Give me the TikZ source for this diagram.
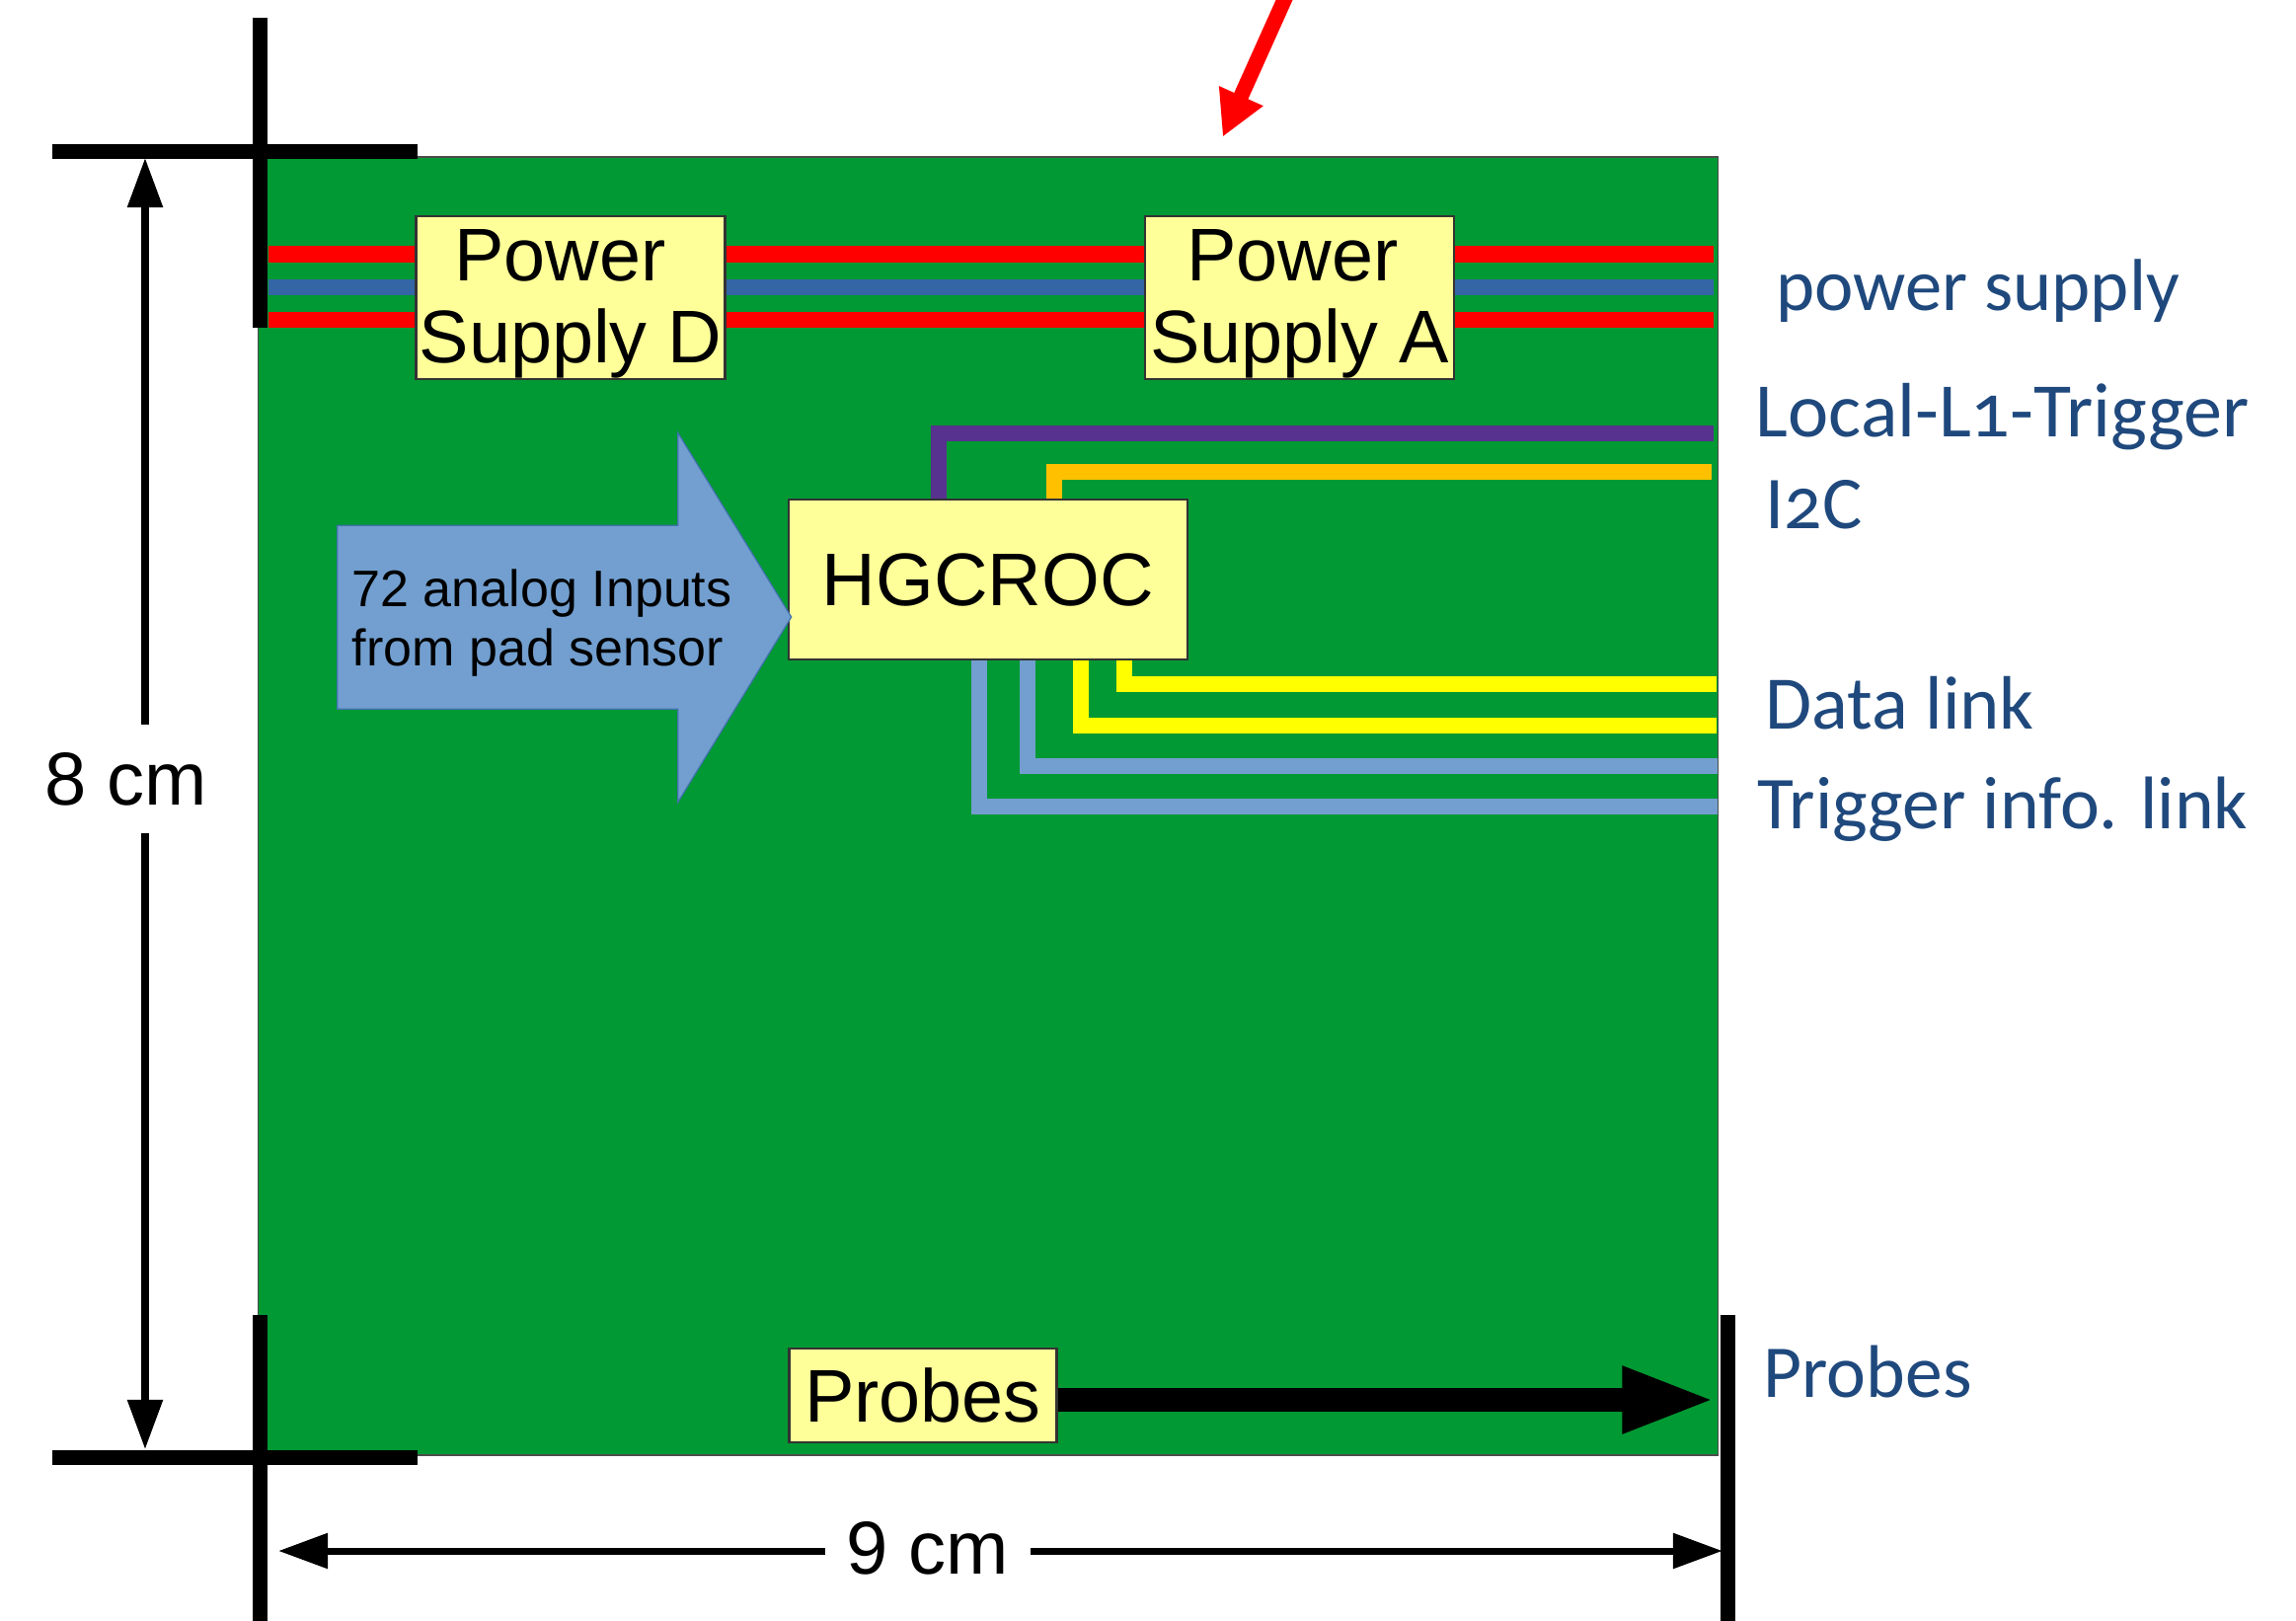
\documentclass[tikz,border=0pt]{standalone}
\usepackage{fontspec}
\setmainfont{Liberation Sans}
\newfontfamily\lblfont[Numbers=OldStyle]{Carlito}
\usepackage{xcolor}
\usetikzlibrary{arrows.meta}
\definecolor{boardgreen}{RGB}{0,153,51}
\definecolor{chipyellow}{RGB}{255,255,153}
\definecolor{railblue}{RGB}{52,101,164}
\definecolor{linkblue}{RGB}{114,159,207}
\definecolor{trigpurple}{RGB}{87,50,142}
\definecolor{itwocorange}{RGB}{255,192,0}
\definecolor{datayellow}{RGB}{255,255,0}
\definecolor{lblblue}{RGB}{31,73,125}
\newcommand{\chipgap}{\rule{0pt}{18.6pt}}
\begin{document}
\begin{tikzpicture}[
    x=0.01cm, y=-0.01cm,
    chip/.style={draw=black!80, fill=chipyellow, line width=0.025cm, inner sep=0pt, align=center,
        font=\fontsize{21.5}{23.6}\selectfont},
    supply/.style={chip, minimum width=3.13cm, minimum height=1.65cm, inner ysep=-0.15cm},
    rail/.style={line width=0.165cm},
    sigline/.style={line width=0.16cm},
    cropbar/.style={line width=0.15cm, black},
    dimline/.style={line width=0.07cm, {Triangle[length=0.5cm,width=0.345cm]}-{Triangle[length=0.5cm,width=0.345cm]}},
    dimlbl/.style={fill=white, inner sep=0pt, font=\fontsize{21.6}{24}\selectfont},
    lbl/.style={anchor=base west, inner sep=0pt, text=lblblue, font=\lblfont\fontsize{#1}{24}\selectfont},
    lbl/.default=21.5
]
\useasboundingbox (0,0) rectangle (2326,1642);

% Board
\node[draw=black!70, fill=boardgreen, line width=0.015cm, minimum width=14.78cm, minimum height=13.14cm, inner sep=0pt] (board) at (1001,816.5) {};

% Power rails
\coordinate (railTopL) at (272,257.5);
\coordinate (railTopR) at (1736,257.5);
\coordinate (railMidL) at (272,291);
\coordinate (railMidR) at (1736,291);
\coordinate (railBotL) at (272,324);
\coordinate (railBotR) at (1736,324);
\draw[rail, red] (railTopL) -- (railTopR);
\draw[rail, railblue] (railMidL) -- (railMidR);
\draw[rail, red] (railBotL) -- (railBotR);

\node[supply] (supplyD) at (578,301.5) {\chipgap Power\hspace*{6pt}\\Supply D};
\node[supply] (supplyA) at (1316.5,301.5) {\chipgap Power\hspace*{4pt}\\Supply A};

% HGCROC and its lines
\node[chip, minimum width=4.04cm, minimum height=1.62cm] (hgcroc) at (1001,587) {HGCROC};
\coordinate (l1End) at (1736,439);
\coordinate (itwocEnd) at (1734,477.5);
\coordinate (dataEndA) at (1739,693);
\coordinate (dataEndB) at (1739,734.5);
\coordinate (trigEndA) at (1740,776);
\coordinate (trigEndB) at (1740,817);
\draw[sigline, trigpurple] ([xshift=1.53cm]hgcroc.north west) |- (l1End);
\draw[sigline, itwocorange] ([xshift=2.70cm]hgcroc.north west) |- (itwocEnd);
\draw[sigline, datayellow] ([xshift=3.415cm]hgcroc.south west) |- (dataEndA);
\draw[sigline, datayellow] ([xshift=2.97cm]hgcroc.south west) |- (dataEndB);
\draw[sigline, linkblue] ([xshift=2.43cm]hgcroc.south west) |- (trigEndA);
\draw[sigline, linkblue] ([xshift=1.94cm]hgcroc.south west) |- (trigEndB);

% Analog inputs
\draw[draw=railblue!80!linkblue, fill=linkblue, line width=0.012cm] (341.7,532.3) -- (686.7,532.3) -- (686.7,438.3) -- (801.7,625) -- (686.7,812.7) -- (686.7,718.3) -- (341.7,718.3) -- cycle;
\node[anchor=west, inner sep=0pt, align=left, font=\fontsize{14.8}{17}\selectfont] (inputs) at (356,631) {72 analog Inputs\\from pad sensor};

% Probes
\node[chip, minimum width=2.71cm, minimum height=0.95cm] (probes) at (935,1413.5) {Probes};
\coordinate (probesEnd) at (1739,1418);
\draw[line width=0.24cm, -{Triangle[length=0.955cm,width=0.61cm]}] (probes.east |- probesEnd) -- (probesEnd);

% Crop marks
\draw[cropbar] (263.5,18) -- (263.5,332);
\draw[cropbar] (53,153) -- (423,153);
\draw[cropbar] (263.5,1332) -- (263.5,1642);
\draw[cropbar] (53,1476) -- (423,1476);
\draw[cropbar] (1750.5,1332) -- (1750.5,1642);

% Dimensions
\coordinate (heightTop) at (147,160);
\coordinate (heightBot) at (147,1468);
\coordinate (widthL) at (282,1571);
\coordinate (widthR) at (1745,1571);
\draw[dimline] (heightTop) -- (heightBot);
\draw[dimline] (widthL) -- (widthR);
\node[dimlbl, minimum height=1.09cm] (heightLbl) at (128,789) {8 cm};
\node[dimlbl, minimum width=2.08cm] (widthLbl) at (940,1568) {9 cm};

% Red pointer
\coordinate (pointerStart) at (1310,-20);
\coordinate (pointerTip) at (1238.7,138.7);
\draw[red, line width=0.155cm, -{Triangle[length=0.455cm,width=0.456cm]}] (pointerStart) -- (pointerTip);

% Side labels
\node[lbl=21.2] (lblPower) at (1799,314) {power supply};
\node[lbl=22.2] (lblTrigger) at (1778,442) {Local-L1-Trigger};
\node[lbl] (lblItwoc) at (1788,535) {I2C};
\node[lbl=21.8] (lblData) at (1788,738) {Data link};
\node[lbl] (lblTrigInfo) at (1780,839) {Trigger info. link};
\node[lbl] (lblProbes) at (1786,1415) {Probes};
\end{tikzpicture}
\end{document}
